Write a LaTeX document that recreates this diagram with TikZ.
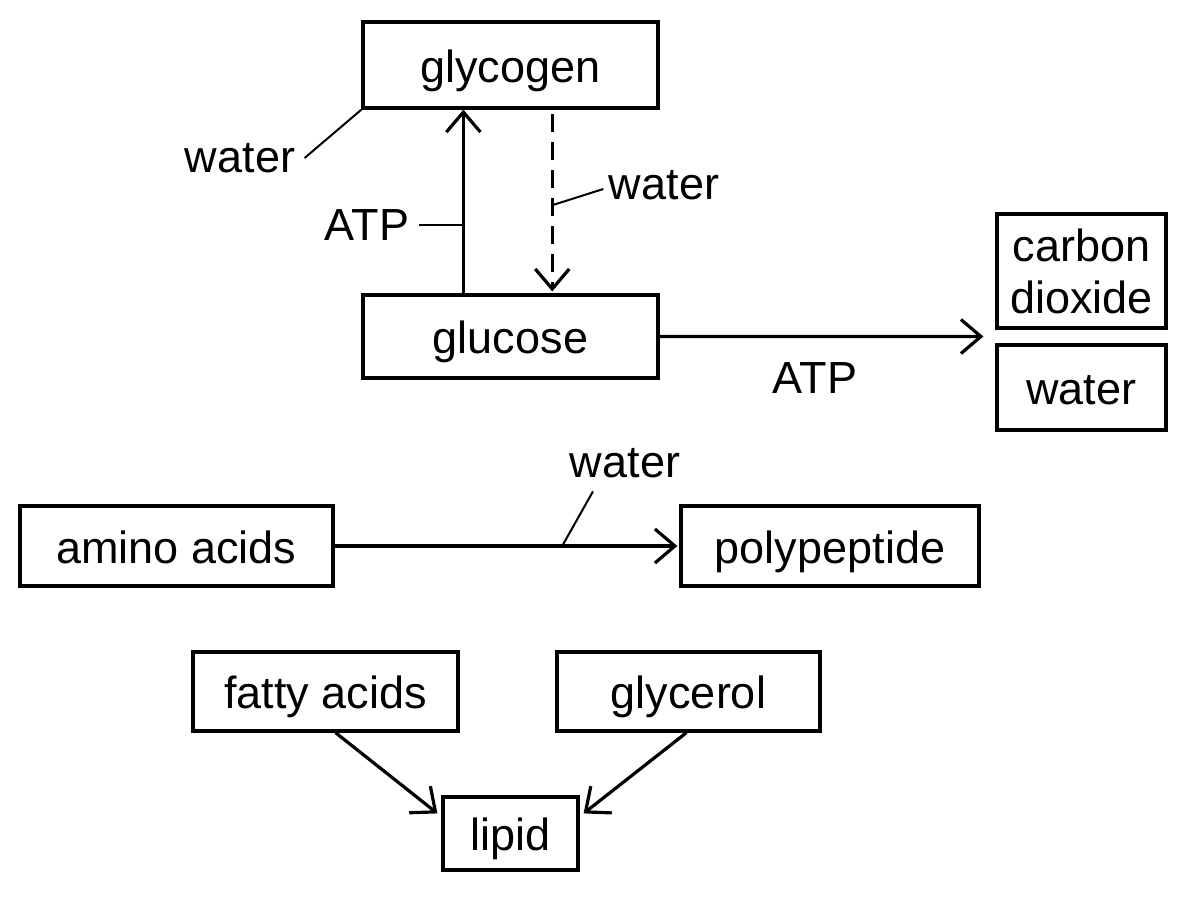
\documentclass[tikz,border=0pt]{standalone}
\usepackage{fontspec}
\setmainfont{Liberation Sans}
\usetikzlibrary{arrows.meta, calc, positioning}

\begin{document}
\begin{tikzpicture}[
    x=0.5pt, y=-0.5pt,
    font=\fontsize{22.5}{26}\selectfont,
    >={Straight Barb[length=10pt, width=17pt]},
    line width=1.6pt,
    box/.style={draw, line width=1.6pt, inner sep=0pt, align=center,
                text height=17pt, text depth=0pt},
    tag/.style={inner sep=2pt},
    lead/.style={line width=1pt},
]
\useasboundingbox (0,0) rectangle (1200,896);

%============================================================
%  glycogen <-> glucose -> carbon dioxide + water
%============================================================
\node[box, minimum width=147.5pt, minimum height=43pt] (glycogen) at (510.5,65) {glycogen};
\node[box, minimum width=147.5pt, minimum height=41.5pt] (glucose) at (510.5,336.5) {glucose};
\node[box, text height=, text depth=, minimum width=84.5pt, minimum height=57pt] (co2) at (1081.5,271) {carbon\\dioxide};
\node[box, minimum width=84.5pt, minimum height=42.5pt] (h2o) at (1081.5,387.5) {water};

% up arrow (synthesis) and dashed arrow (breakdown)
\coordinate (upA) at ($(glucose.north west)!0.342!(glucose.north east)$);
\coordinate (upB) at ($(glycogen.south west)!0.342!(glycogen.south east)$);
\coordinate (dnA) at ($(glycogen.south west)!0.64!(glycogen.south east)$);
\coordinate (dnB) at ($(glucose.north west)!0.64!(glucose.north east)$);
\draw[->] (upA) -- (upB);
\draw[->, dashed, dash pattern=on 9pt off 5pt] ([yshift=-2pt]dnA) -- ([yshift=1pt]dnB);

% labels on the glycogen arrows
\node[tag] (watL) at (240,158) {water};
\draw[lead] ([xshift=2pt]watL.east) -- (glycogen.south west);
\node[tag] (atpL) at (367,225) {ATP};
\draw[lead] ([xshift=2pt]atpL.east) -- (atpL.east -| upA);
\node[tag] (watR) at (664,185) {water};
\draw[lead] ([yshift=-2pt]watR.west) -- ($(dnA)!0.52!(dnB)$);

% respiration
\coordinate (prod) at ($($(co2.south west)!0.5!(h2o.north west)$)+(-12,0)$);
\draw[->] (glucose.east) -- (prod);
\node[tag] (atpR) at (815,378) {ATP};

%============================================================
%  amino acids -> polypeptide
%============================================================
\node[box, minimum width=156.5pt, minimum height=40pt] (amino) at (176.5,546) {amino acids};
\node[box, minimum width=149pt, minimum height=40pt] (poly) at (830,546) {polypeptide};
\draw[->] (amino.east) -- ([xshift=-1pt]poly.west);
\coordinate (cond) at ($(amino.east)!0.66!(poly.west)$);
\node[tag] (watP) at (625,463) {water};
\draw[lead] ([xshift=-16pt,yshift=-4pt]watP.south) -- (cond);

%============================================================
%  fatty acids + glycerol -> lipid
%============================================================
\node[box, minimum width=132.5pt, minimum height=39.5pt] (fatty) at (325.5,691.5) {fatty acids};
\node[box, minimum width=131.5pt, minimum height=39.5pt] (glycerol) at (688.5,691.5) {glycerol};
\node[box, minimum width=67.5pt, minimum height=36.5pt] (lipid) at (510.5,833.5) {lipid};
\draw[->] ([xshift=5pt]fatty.south) -- ([shift={(-4,18)}]lipid.north west);
\draw[->] ([xshift=-1pt]glycerol.south) -- ([shift={(4,18)}]lipid.north east);

\end{tikzpicture}
\end{document}
